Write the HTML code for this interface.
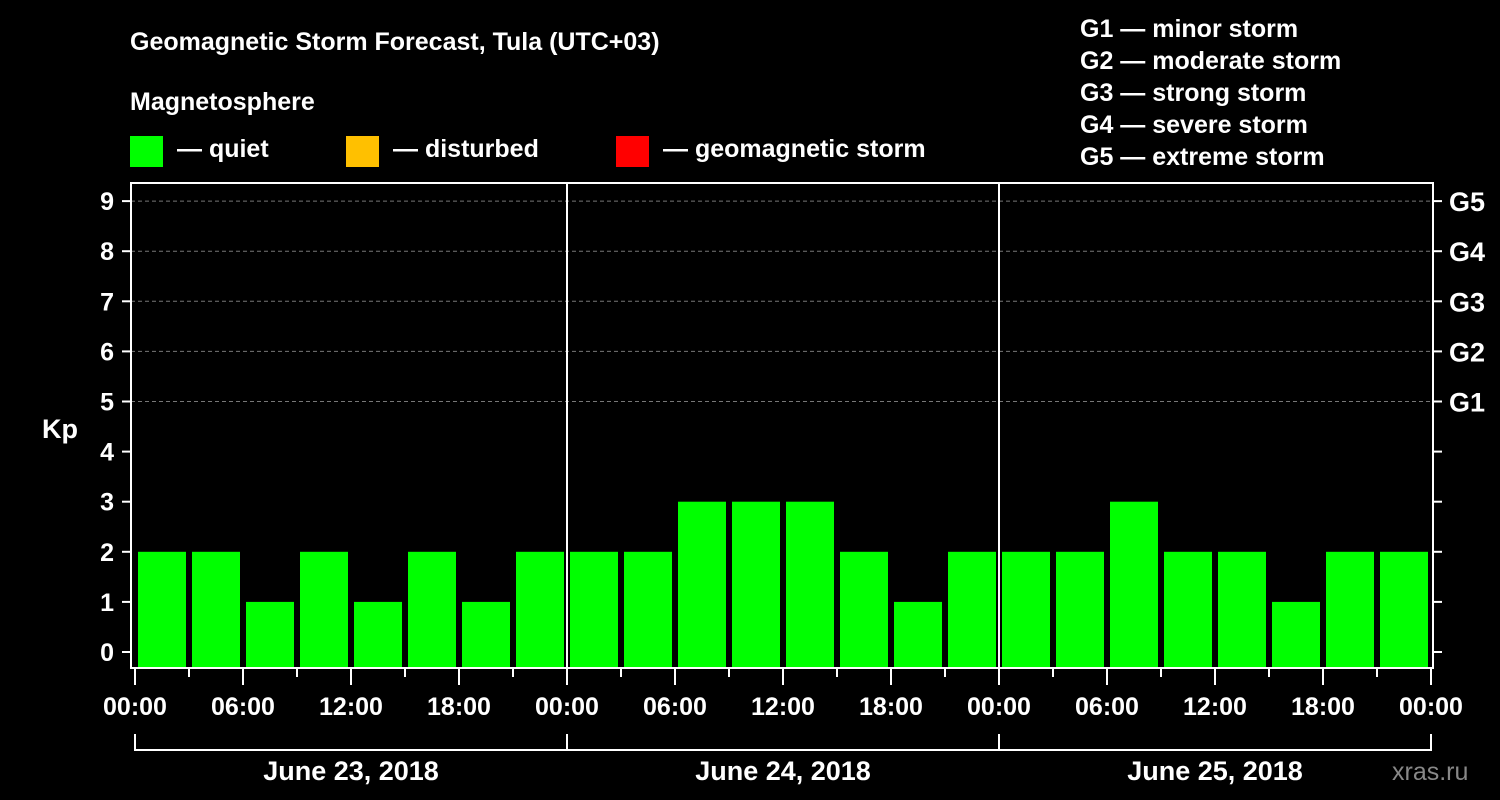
<!DOCTYPE html>
<html><head><meta charset="utf-8"><style>
body{margin:0;background:#000;}
svg{display:block;font-family:"Liberation Sans",Arial,sans-serif;font-weight:bold;}
</style></head><body>
<svg id="c" width="1500" height="800">
<rect width="1500" height="800" fill="#000"/>
<text x="130" y="50" fill="#fff" font-size="25">Geomagnetic Storm Forecast, Tula (UTC+03)</text>
<text x="130" y="110" fill="#fff" font-size="25">Magnetosphere</text>
<g><rect x="130" y="136" width="33" height="31" fill="#00ff00"/><text x="177" y="157" fill="#fff" font-size="25">— quiet</text></g>
<g><rect x="346" y="136" width="33" height="31" fill="#ffc000"/><text x="393" y="157" fill="#fff" font-size="25">— disturbed</text></g>
<g><rect x="616" y="136" width="33" height="31" fill="#ff0000"/><text x="663" y="157" fill="#fff" font-size="25">— geomagnetic storm</text></g>
<g fill="#fff" font-size="25">
<text x="1080" y="37">G1 — minor storm</text><text x="1080" y="69">G2 — moderate storm</text><text x="1080" y="101">G3 — strong storm</text><text x="1080" y="133">G4 — severe storm</text><text x="1080" y="165">G5 — extreme storm</text></g>
<text x="42" y="438" fill="#fff" font-size="27">Kp</text>
<text x="1392" y="780" fill="#888" font-size="25" font-weight="normal">xras.ru</text>
<g id="grid"></g><g id="bars"></g><g id="axes"></g>
</svg>
<script>
const kpValues=[2,2,1,2,1,2,1,2, 2,2,3,3,3,2,1,2, 2,2,3,2,2,1,2,2];
const dayLabels=["June 23, 2018","June 24, 2018","June 25, 2018"];
const hourLabels=["00:00","06:00","12:00","18:00"];
const gLabels=["G1","G2","G3","G4","G5"];
const NS="http://www.w3.org/2000/svg";
const X0=135,STEP=54,Y0=652,UNIT=50.1,L=131,R=1433,T=183,B=668;
const xs=i=>X0+STEP*i, ys=v=>Y0-UNIT*v;
function mk(tag,a,p,t){const e=document.createElementNS(NS,tag);for(const k in a)e.setAttribute(k,a[k]);if(t!==undefined)e.textContent=t;p.appendChild(e);return e;}
const grid=document.getElementById('grid'),bars=document.getElementById('bars'),axes=document.getElementById('axes');
for(let v=5;v<=9;v++){const g=mk('line',{x1:L,x2:R,y1:ys(v),y2:ys(v),stroke:'#777','stroke-dasharray':'4,3','stroke-width':1},grid);

}
kpValues.forEach((v,i)=>{const c=v>=5?'#ff0000':(v>=4?'#ffc000':'#00ff00');
const r=mk('rect',{x:xs(i)+3,y:ys(v),width:48,height:B-ys(v),fill:c},bars);

});
const frame=mk('rect',{x:L,y:T,width:R-L,height:B-T,fill:'none',stroke:'#fff','stroke-width':2},axes);


for(let d=1;d<dayLabels.length;d++){const l=mk('line',{x1:xs(8*d),x2:xs(8*d),y1:T,y2:B,stroke:'#fff','stroke-width':2},axes);

}
for(let v=0;v<=9;v++){mk('line',{x1:122,x2:L,y1:ys(v),y2:ys(v),stroke:'#fff','stroke-width':2},axes);
mk('line',{x1:R,x2:1442,y1:ys(v),y2:ys(v),stroke:'#fff','stroke-width':2},axes);
const t=mk('text',{x:114,y:ys(v)+9,fill:'#fff','font-size':25,'text-anchor':'end'},axes,String(v));

}
gLabels.forEach((g,i)=>{const t=mk('text',{x:1449,y:ys(5+i)+10,fill:'#fff','font-size':27},axes,g);

});
for(let i=0;i<=kpValues.length;i++){const major=i%2===0;
mk('line',{x1:xs(i),x2:xs(i),y1:B+1,y2:major?685:677,stroke:'#fff','stroke-width':2},axes);
if(major){const t=mk('text',{x:xs(i),y:715,fill:'#fff','font-size':25,'text-anchor':'middle'},axes,hourLabels[(i/2)%4]);

}}
mk('polyline',{points:`${xs(0)},734 ${xs(0)},750 ${xs(24)},750 ${xs(24)},734`,fill:'none',stroke:'#fff','stroke-width':2},axes);
dayLabels.forEach((d,i)=>{mk('line',{x1:xs(8*i),x2:xs(8*i),y1:734,y2:750,stroke:'#fff','stroke-width':2},axes);
const t=mk('text',{x:xs(8*i+4),y:780,fill:'#fff','font-size':27,'text-anchor':'middle'},axes,d);

});
</script>
</body></html>
